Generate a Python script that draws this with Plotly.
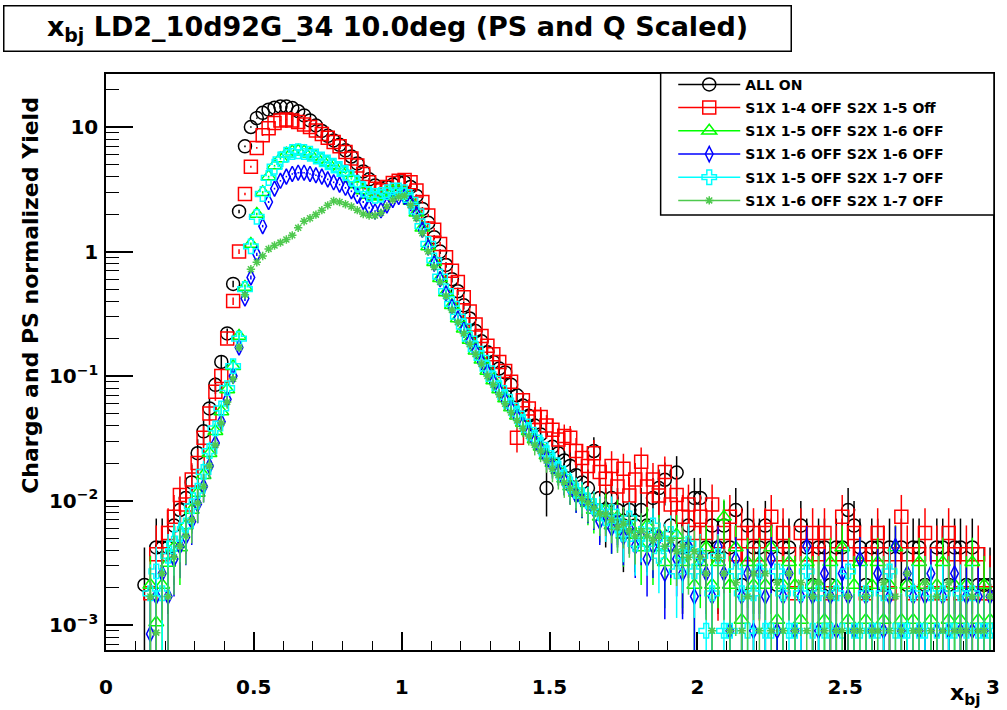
import math
import plotly.graph_objects as go

# ---------------- data ----------------
bin_start = 0.13
bin_width = 0.02
n_bins = 144
x_bj = [round(bin_start + bin_width * i, 2) for i in range(n_bins)]

series_names = [
    "ALL ON",
    "S1X 1-4 OFF S2X 1-5 Off",
    "S1X 1-5 OFF S2X 1-6 OFF",
    "S1X 1-6 OFF S2X 1-6 OFF",
    "S1X 1-5 OFF S2X 1-7 OFF",
    "S1X 1-6 OFF S2X 1-7 OFF",
]

y_tick_vals = [0.001, 0.01, 0.1, 1, 10]
y_tick_text = ["10<sup>\u22123</sup>", "10<sup>\u22122</sup>", "10<sup>\u22121</sup>", "1", "10"]

all_on = [
    0.0021, None, 0.0042, 0.0042, 0.0042, 0.0063, 0.0084, 0.0105, 0.014, 0.024,
    0.036, 0.055, 0.085, 0.13, 0.22,
    0.55, 2.1, 7.0, 10.0, 11.8, 13.0, 13.8, 14.3, 14.6, 14.6,
    14.2, 13.4, 12.4, 11.3, 10.3, 9.3, 8.5, 7.8, 7.2, 6.5,
    5.8, 5.1, 4.4, 3.8, 3.4, 3.2, 3.3, 3.45, 3.6,
    3.6, 3.3, 2.8, 2.2, 1.7, 1.3, 1.0, 0.78, 0.6, 0.48,
    0.37, 0.29, 0.23, 0.19, 0.155, 0.13, 0.115, 0.107, 0.085, 0.07,
    0.058, 0.048, 0.04, 0.034, 0.0126, 0.027, 0.024, 0.021, 0.019, 0.016,
    0.014, 0.0126, 0.025, 0.0105, 0.0084, 0.0105, 0.0084, 0.0063, 0.0084, 0.0063,
    0.0084, 0.0063, 0.0105, 0.0126, 0.0147, 0.0063, 0.0168, 0.0042, 0.0063, 0.0105,
    0.0105, 0.0042, 0.0063, 0.0042, 0.0063, 0.0042, 0.0084, 0.0021, 0.0063, 0.0042,
    0.0042, 0.0063, 0.0042, 0.0021, 0.0042, 0.0042, None, 0.0063, 0.0042, 0.0021,
    0.0042, 0.0042, 0.0021, 0.0042, 0.0042, 0.0084, 0.0063, 0.0042, 0.0021, 0.0042,
    0.0042, 0.0021, 0.0042, None, 0.0042, 0.0021, 0.0042, 0.0042, 0.0021, None,
    0.0042, 0.0042, 0.0021, 0.0042, 0.0042, 0.0021, 0.0042, 0.0021, 0.0021, 0.0021,
]

s1x14_s2x15 = [
    None, 0.0018, 0.0037, 0.0037, 0.0055, 0.0074, 0.0111, 0.0093, 0.0148, 0.02,
    0.032, 0.05, 0.075, 0.1, 0.2,
    0.4, 1.0, 2.9, 4.8, 6.8, 8.6, 9.8, 10.8, 11.3, 11.5,
    11.3, 11.0, 10.5, 10.0, 9.4, 8.8, 8.2, 7.6, 7.0, 6.3,
    5.6, 4.9, 4.2, 3.6, 3.2, 3.1, 3.3, 3.55, 3.7,
    3.75, 3.6, 3.1, 2.5, 1.95, 1.5, 1.15, 0.9, 0.7, 0.57,
    0.43, 0.33, 0.26, 0.21, 0.175, 0.15, 0.13, 0.11, 0.09, 0.032,
    0.064, 0.055, 0.047, 0.047, 0.04, 0.037, 0.031, 0.033, 0.032, 0.025,
    0.022, 0.019, 0.024, 0.017, 0.015, 0.019, 0.013, 0.018, 0.011, 0.0148,
    0.0205, 0.013, 0.0148, 0.011, 0.017, 0.0093, 0.0111, 0.0074, 0.0093, 0.0055,
    0.0074, 0.0055, 0.0093, 0.0037, 0.0055, 0.0074, 0.0037, 0.0055, 0.0037, 0.0055,
    0.0037, 0.0055, 0.0074, 0.0037, 0.0055, 0.0037, 0.0018, 0.0055, 0.0037, 0.0055,
    0.0037, 0.0055, 0.0018, 0.0037, 0.0074, 0.0037, 0.0055, 0.0037, 0.0018, 0.0037,
    0.0055, 0.0037, 0.0018, 0.0037, 0.0074, 0.0037, 0.0018, 0.0037, 0.0055, 0.0018,
    0.0037, 0.0018, 0.0055, 0.0037, 0.0018, 0.0037, 0.0018, 0.0037, 0.0018, 0.0018,
]

s1x15_s2x16 = [
    None, 0.0021, 0.00105, 0.0021, 0.00315, 0.0042, 0.0042, 0.0063, 0.0084, 0.0115,
    0.016, 0.024, 0.036, 0.052, 0.078,
    0.12, 0.21, 0.52, 1.15, 2.0, 3.0, 4.0, 4.9, 5.6, 6.1,
    6.35, 6.45, 6.35, 6.1, 5.8, 5.5, 5.2, 4.9, 4.6, 4.25,
    3.85, 3.45, 3.1, 2.85, 2.75, 2.8, 2.95, 3.05, 3.05,
    2.95, 2.55, 2.05, 1.55, 1.1, 0.82, 0.61, 0.47, 0.37, 0.29,
    0.24, 0.195, 0.16, 0.135, 0.11, 0.092, 0.078, 0.066, 0.056, 0.048,
    0.042, 0.036, 0.031, 0.027, 0.023, 0.02, 0.0175, 0.015, 0.013, 0.0115,
    0.0105, 0.0095, 0.0084, 0.0074, 0.0084, 0.0063, 0.0074, 0.0053, 0.0063, 0.0053,
    0.0042, 0.0063, 0.0042, 0.0053, 0.0032, 0.0042, 0.0053, 0.0032, 0.0042, 0.0021,
    0.0032, 0.0042, 0.0021, 0.0032, 0.0074, 0.0021, 0.0042, 0.0011, 0.0032, 0.0021,
    0.0032, 0.0021, 0.0042, 0.0011, 0.0021, 0.0032, 0.0021, 0.0011, 0.0032, 0.0021,
    0.0021, 0.0011, 0.0032, 0.0021, 0.0042, 0.0011, 0.0021, 0.0032, 0.0011, 0.0021,
    0.0032, 0.0011, 0.0021, 0.0042, 0.0011, 0.0021, 0.0011, 0.0032, 0.0021, 0.0011,
    0.0021, 0.0032, 0.0011, 0.0021, 0.0011, 0.0021, 0.0032, 0.0011, 0.0021, 0.0011,
]

s1x16_s2x16 = [
    None, 0.00085, 0.0017, 0.0026, 0.0017, 0.0034, 0.0043, 0.0051, 0.0068, 0.0094,
    0.013, 0.019, 0.029, 0.043, 0.065,
    0.1, 0.17, 0.42, 0.62, 0.95, 1.6, 2.5, 3.2, 3.7, 4.0,
    4.2, 4.3, 4.3, 4.2, 4.1, 4.0, 3.8, 3.6, 3.45, 3.25,
    3.05, 2.8, 2.5, 2.25, 2.1, 2.15, 2.35, 2.6, 2.75,
    2.75, 2.45, 2.0, 1.5, 1.08, 0.8, 0.6, 0.46, 0.36, 0.29,
    0.235, 0.19, 0.158, 0.13, 0.108, 0.09, 0.076, 0.064, 0.055, 0.047,
    0.041, 0.035, 0.03, 0.026, 0.022, 0.019, 0.017, 0.0145, 0.0125, 0.011,
    0.0102, 0.0094, 0.0085, 0.0068, 0.0077, 0.006, 0.0068, 0.0051, 0.006, 0.0043,
    0.0051, 0.0034, 0.0043, 0.0051, 0.0026, 0.0043, 0.0034, 0.0026, 0.0043, 0.0017,
    0.0034, 0.0026, 0.0017, 0.0043, 0.0026, 0.0009, 0.0034, 0.0017, 0.0026, 0.0009,
    0.0026, 0.0017, 0.0034, 0.0009, 0.0017, 0.0026, 0.0009, 0.0017, 0.0043, 0.0017,
    0.0009, 0.0026, 0.0017, 0.0009, 0.0026, 0.0017, 0.0009, 0.0034, 0.0017, 0.0009,
    0.0026, 0.0009, 0.0017, 0.0043, 0.0009, 0.0026, 0.0017, 0.0009, 0.0017, 0.0026,
    0.0009, 0.0017, 0.0009, 0.0026, 0.0009, 0.0017, 0.0009, 0.0017, 0.0009, 0.0017,
]

s1x15_s2x17 = [
    None, 0.0018, 0.0027, 0.0018, 0.0036, 0.0045, 0.0054, 0.0063, 0.009, 0.012,
    0.017, 0.025, 0.038, 0.055, 0.08,
    0.12, 0.2, 0.5, 1.1, 1.9, 2.9, 3.9, 4.8, 5.5, 6.0,
    6.3, 6.4, 6.3, 6.1, 5.8, 5.5, 5.2, 4.9, 4.6, 4.3,
    3.9, 3.5, 3.15, 2.9, 2.8, 2.85, 3.0, 3.1, 3.1,
    3.0, 2.6, 2.1, 1.6, 1.15, 0.85, 0.63, 0.48, 0.38, 0.3,
    0.25, 0.2, 0.165, 0.14, 0.115, 0.095, 0.08, 0.068, 0.058, 0.05,
    0.043, 0.037, 0.032, 0.028, 0.024, 0.021, 0.018, 0.0155, 0.0135, 0.012,
    0.011, 0.0099, 0.009, 0.0081, 0.0072, 0.0081, 0.0063, 0.0054, 0.0072, 0.0045,
    0.0054, 0.0045, 0.0063, 0.0036, 0.0045, 0.0054, 0.0027, 0.0036, 0.0045, 0.0027,
    0.0036, 0.0009, 0.0018, 0.0036, 0.0009, 0.0009, 0.0027, 0.0018, 0.0009, 0.0018,
    0.0027, 0.0009, 0.0009, 0.0027, 0.0018, 0.0009, 0.0009, 0.0018, 0.0027, 0.0009,
    0.0018, 0.0009, 0.0009, 0.0018, 0.0009, 0.0027, 0.0009, 0.0009, 0.0018, 0.0009,
    0.0009, 0.0018, 0.0027, 0.0009, 0.0009, 0.0009, 0.0018, 0.0009, 0.0009, 0.0018,
    0.0009, 0.0018, 0.0009, 0.0009, 0.0018, 0.0009, 0.0018, 0.0009, 0.0009, 0.0009,
]

s1x16_s2x17 = [
    None, 0.0017, 0.00087, 0.0026, 0.0017, 0.0035, 0.0043, 0.0052, 0.007, 0.0095,
    0.013, 0.019, 0.028, 0.042, 0.062,
    0.095, 0.17, 0.45, 0.72, 0.82, 0.92, 1.05, 1.12, 1.18, 1.25,
    1.35, 1.55, 1.75, 1.85, 1.98, 2.15, 2.35, 2.55, 2.5, 2.4,
    2.3, 2.15, 2.0, 1.95, 1.95, 2.05, 2.3, 2.6, 2.75,
    2.8, 2.35, 1.85, 1.4, 1.0, 0.75, 0.57, 0.44, 0.34, 0.27,
    0.22, 0.18, 0.15, 0.125, 0.1, 0.085, 0.071, 0.06, 0.051, 0.044,
    0.038, 0.033, 0.028, 0.025, 0.021, 0.018, 0.016, 0.014, 0.0125, 0.0115,
    0.0104, 0.0096, 0.0087, 0.0078, 0.0078, 0.0070, 0.0061, 0.0065, 0.0057, 0.0052,
    0.0057, 0.0052, 0.0048, 0.0052, 0.0043, 0.0048, 0.0039, 0.0043, 0.0035, 0.0039,
    0.0035, 0.0026, 0.0009, 0.0035, 0.0026, 0.0009, 0.0022, 0.0009, 0.0017, 0.0026,
    0.0009, 0.0026, 0.0009, 0.0022, 0.0009, 0.0026, 0.0009, 0.0022, 0.0009, 0.0017,
    0.0022, 0.0009, 0.0017, 0.0009, 0.0009, 0.0017, 0.0009, 0.0009, 0.0017, 0.0009,
    0.0009, 0.0022, 0.0009, 0.0017, 0.0009, 0.0026, 0.0009, 0.0009, 0.0022, 0.0009,
    0.0017, 0.0009, 0.0022, 0.0009, 0.0009, 0.0009, 0.0017, 0.0009, 0.0009, 0.0017,
]

# weight of a single event in each run (sets the statistical error bars)
count_unit = [0.0021, 0.00185, 0.00105, 0.00085, 0.0009, 0.00087]

series_values = [all_on, s1x14_s2x15, s1x15_s2x16, s1x16_s2x16, s1x15_s2x17, s1x16_s2x17]
for v in series_values:
    assert len(v) == n_bins, len(v)

# ---------------- styles ----------------
colors = ["#000000", "#ff0000", "#00ff00", "#0000ff", "#00ffff", "#4ec94e"]
symbols = ["circle-open", "square-open", "triangle-up-open", "diamond-tall-open",
           "cross-open", "asterisk-open"]
sizes = [13, 13, 13, 11, 12, 7]

FONT = "DejaVu Sans, Liberation Sans, Arial, sans-serif"

fig = go.Figure()
for name, vals, unit, col, sym, sz in zip(series_names, series_values, count_unit,
                                          colors, symbols, sizes):
    errs = [math.sqrt(v * unit) if v is not None else None for v in vals]
    fig.add_trace(go.Scatter(
        x=x_bj, y=vals, mode="markers", name=name, showlegend=False,
        marker=dict(symbol=sym, size=sz, color=col, line=dict(color=col, width=1.5)),
        error_y=dict(type="data", array=errs, symmetric=True, color=col,
                     thickness=1.5, width=0),
        hoverinfo="x+y+name",
    ))

# legend entries (ROOT style: line + marker)
for i, (name, col, sym, sz) in enumerate(zip(series_names, colors, symbols, sizes)):
    fig.add_trace(go.Scatter(
        x=[None], y=[None], mode="lines+markers", name=name,
        legendgroup=f"g{i}",
        line=dict(color=col, width=1.5),
        marker=dict(symbol=sym, size=sz, color=col, line=dict(color=col, width=1.5)),
    ))

fig.update_layout(
    width=1007, height=710, autosize=False,
    margin=dict(l=106, r=7, t=74, b=60),
    paper_bgcolor="white", plot_bgcolor="white",
    font=dict(family=FONT, color="black"),
    xaxis=dict(
        range=[0, 3], showgrid=False, zeroline=False,
        showline=True, mirror=True, linecolor="black", linewidth=1.5,
        ticks="inside", ticklen=18, tickwidth=1.5, tickcolor="black",
        tick0=0, dtick=0.5, ticklabelstandoff=18,
        tickfont=dict(family=FONT, size=20, weight="bold"),
        minor=dict(ticks="inside", ticklen=9, tickwidth=1.2, tickcolor="black",
                   dtick=0.1, showgrid=False),
    ),
    yaxis=dict(
        type="log", range=[-3.2, 1.426], showgrid=False, zeroline=False,
        showline=True, mirror=True, linecolor="black", linewidth=1.5,
        ticks="inside", ticklen=27, tickwidth=1.5, tickcolor="black",
        tickmode="array", tickvals=y_tick_vals, ticktext=y_tick_text,
        ticklabelstandoff=2,
        tickfont=dict(family=FONT, size=20, weight="bold"),
        minor=dict(ticks="inside", ticklen=13, tickwidth=1.2, tickcolor="black",
                   dtick="D1", showgrid=False),
    ),
    legend=dict(
        x=0.6395, y=1.009, xanchor="left", yanchor="top",
        bgcolor="rgba(0,0,0,0)", borderwidth=0,
        font=dict(family=FONT, size=14, weight="bold", color="black"),
        itemwidth=62, traceorder="grouped", tracegroupgap=2,
    ),
    shapes=[dict(
        type="rect", xref="paper", yref="paper",
        x0=0.6253, x1=1.0011, y0=0.7552, y1=1.0017,
        line=dict(color="black", width=1.5), fillcolor="white", layer="above",
    )],
    annotations=[
        dict(
            text="x<sub>bj</sub> LD2_10d92G_34 10.0deg (PS and Q Scaled)",
            xref="paper", yref="paper", x=0.3289, y=1.079,
            xanchor="center", yanchor="middle", showarrow=False,
            width=786, height=44, bgcolor="white",
            bordercolor="black", borderwidth=1.5, borderpad=0,
            font=dict(family=FONT, size=27, weight="bold", color="black"),
        ),
        dict(
            text="Charge and PS normalized Yield",
            xref="paper", yref="paper", x=-0.085, y=0.616,
            xanchor="center", yanchor="middle", showarrow=False, textangle=-90,
            font=dict(family=FONT, size=22, weight="bold", color="black"),
        ),
        dict(
            text="x<sub>bj</sub>",
            xref="paper", yref="paper", x=0.9687, y=-0.078,
            xanchor="center", yanchor="middle", showarrow=False,
            font=dict(family=FONT, size=22, weight="bold", color="black"),
        ),
    ],
)

fig.write_html("out.html", config={"displayModeBar": False},
               post_script="document.body.style.margin='0px';")
